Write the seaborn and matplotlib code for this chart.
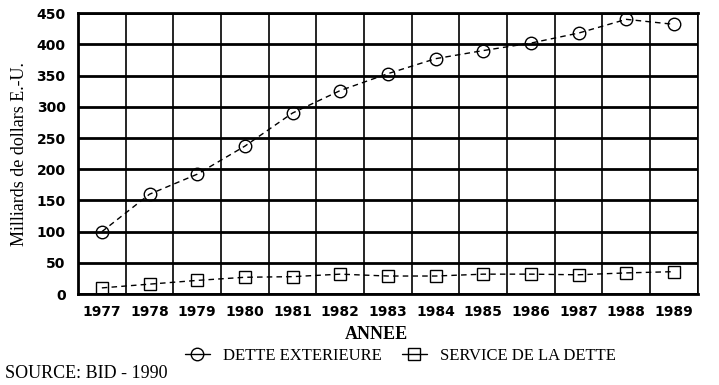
import matplotlib
matplotlib.use("Agg")
import matplotlib.pyplot as plt
import seaborn as sns
import pandas as pd
import numpy as np
from matplotlib.lines import Line2D

years = [1977, 1978, 1979, 1980, 1981, 1982, 1983, 1984, 1985, 1986, 1987, 1988, 1989]
dette_exterieure = [100, 160, 192, 237, 290, 326, 353, 377, 390, 402, 418, 440, 432]
service_dette = [10, 16, 22, 27, 28, 32, 29, 29, 32, 32, 31, 34, 36]
y_ticks = [0, 50, 100, 150, 200, 250, 300, 350, 400, 450]

sns.set_theme(style="white")
plt.rcParams['font.family'] = ['DejaVu Sans']
plt.rcParams['text.color'] = 'black'
plt.rcParams['axes.labelcolor'] = 'black'
plt.rcParams['xtick.color'] = 'black'
plt.rcParams['ytick.color'] = 'black'

df = pd.DataFrame({
    "year": years * 2,
    "value": dette_exterieure + service_dette,
    "serie": ["DETTE EXTERIEURE"] * len(years) + ["SERVICE DE LA DETTE"] * len(years),
})

fig = plt.figure(figsize=(7.19, 3.85), dpi=100)
ax = fig.add_axes([0.1085, 0.236, 0.862, 0.730])

sns.lineplot(data=df, x="year", y="value", hue="serie", style="serie",
             palette=["black", "black"], markers=["o", "s"], dashes=[(4, 3), (4, 3)],
             linewidth=1.0, markersize=9, markerfacecolor="none",
             markeredgecolor="black", markeredgewidth=1.0, ax=ax, legend=False)

ax.set_xlim(1976.5, 1989.5)
ax.set_ylim(0, 450)
ax.set_yticks(y_ticks)
ax.set_xticks(years)
ax.set_xticklabels([str(y) for y in years], fontsize=10)
ax.set_xticks(np.arange(1976.5, 1990, 1.0), minor=True)
ax.tick_params(axis="x", which="major", length=0, pad=8)
ax.tick_params(axis="x", which="minor", length=7, width=1.2, color="black", direction="out")
ax.tick_params(axis="y", length=7, width=2, color="black", labelsize=10, pad=2)
ax.grid(axis="y", which="major", color="black", linewidth=2.0)
ax.grid(axis="x", which="minor", color="black", linewidth=1.2)
ax.set_axisbelow(True)
for s in ["top", "left", "bottom"]:
    ax.spines[s].set_linewidth(2.0)
    ax.spines[s].set_color("black")
ax.spines["right"].set_linewidth(1.2)
ax.spines["right"].set_color("black")
for lab in ax.get_yticklabels() + ax.get_xticklabels():
    lab.set_fontweight("bold")

ax.set_xlabel("ANNEE", family="Liberation Serif", fontweight="bold", fontsize=13, labelpad=5)
ax.set_ylabel("Milliards de dollars E.-U.", family="Liberation Serif", fontsize=13, labelpad=6)
ax.xaxis.set_label_coords(0.482, -0.115)

h1 = Line2D([], [], color="black", linewidth=1.0, marker="o", markersize=9,
            markerfacecolor="none", markeredgecolor="black")
h2 = Line2D([], [], color="black", linewidth=1.0, marker="s", markersize=8,
            markerfacecolor="none", markeredgecolor="black")
fig.legend([h1, h2], ["DETTE EXTERIEURE", "SERVICE DE LA DETTE"], loc="center",
           bbox_to_anchor=(0.557, 0.075), ncol=2, frameon=False, handlelength=1.5,
           columnspacing=1.2, prop={"family": "Liberation Serif", "size": 12})

fig.text(0.007, 0.018, "SOURCE: BID - 1990", family="Liberation Serif", fontsize=13, ha="left")

fig.savefig("out.png", dpi=100)
